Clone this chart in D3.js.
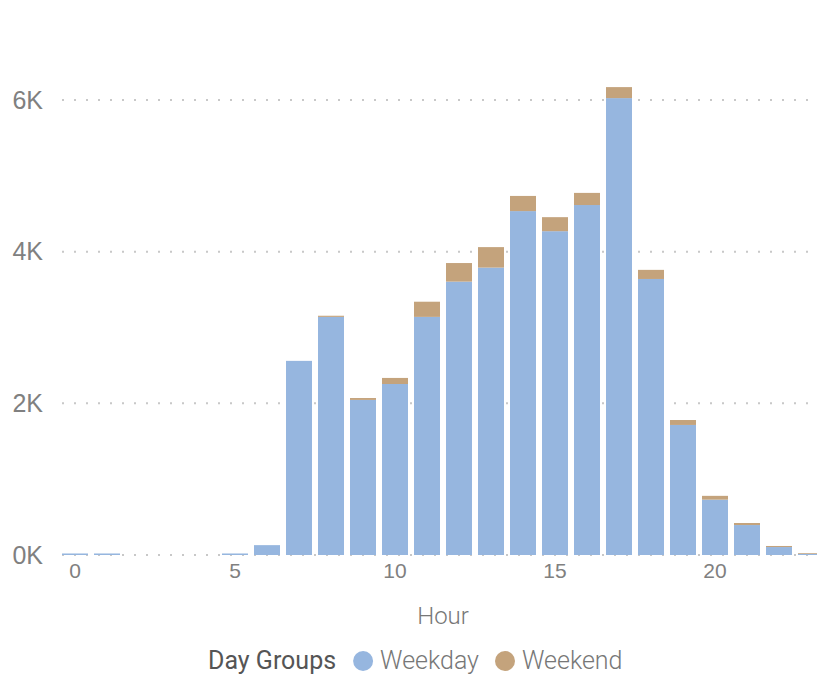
<!DOCTYPE html>
<html>
<head>
<meta charset="utf-8">
<script src="https://cdn.jsdelivr.net/npm/d3@7"></script>
<style>
  body { margin: 0; background: #fff; }
  svg { display: block; font-family: "Segoe UI Light", Roboto, "Open Sans", sans-serif; }
</style>
</head>
<body>
<div id="chart"></div>
<script>
// hours on the x axis
const hours = d3.range(0, 24);
const weekday = [20, 20, 0, 0, 0, 20, 130, 2560, 3140, 2045, 2255, 3140,
                 3605, 3790, 4535, 4270, 4615, 6025, 3640, 1715, 730, 395, 105, 15];
const weekend = [0, 0, 0, 0, 0, 0, 0, 0, 15, 25, 80, 200,
                 245, 270, 200, 185, 160, 145, 120, 65, 50, 27, 14, 10];
const groups = ["Weekday", "Weekend"];
const colors = ["#96b6df", "#c4a37c"];
const xTicks = [0, 5, 10, 15, 20];
const yTicks = [0, 2000, 4000, 6000];

const width = 817, height = 680;

const svg = d3.select("#chart").append("svg")
    .attr("width", width)
    .attr("height", height);

const rows = hours.map((h, i) => ({ hour: h, Weekday: weekday[i], Weekend: weekend[i] }));
const series = d3.stack().keys(groups)(rows);

const x = d3.scaleBand()
    .domain(hours)
    .range([59, 827])
    .paddingInner(0.1875)
    .paddingOuter(0.09375);

const y = d3.scaleLinear()
    .domain([0, 6000])
    .range([555, 100]);

// dotted gridlines
svg.append("g")
    .selectAll("line")
    .data(yTicks)
    .enter()
    .append("line")
    .attr("x1", 62)
    .attr("x2", 812)
    .attr("y1", d => y(d))
    .attr("y2", d => y(d))
    .attr("stroke", "#c8c8c8")
    .attr("stroke-width", 2)
    .attr("stroke-dasharray", "2,10");

// y axis labels
const yAxis = svg.append("g")
    .attr("transform", "translate(45,0)")
    .call(d3.axisLeft(y).tickValues(yTicks).tickSize(0).tickPadding(2)
        .tickFormat(d => (d / 1000) + "K"));
yAxis.select(".domain").remove();
yAxis.selectAll("text")
    .attr("fill", "#808080")
    .style("font-size", "25px")
    .style("font-weight", 300)
    .style("font-family", null);

// stacked bars
svg.append("g")
    .selectAll("g")
    .data(series)
    .enter()
    .append("g")
    .attr("fill", (d, i) => colors[i])
    .selectAll("rect")
    .data(d => d)
    .enter()
    .append("rect")
    .attr("x", d => x(d.data.hour))
    .attr("y", d => y(d[1]))
    .attr("width", x.bandwidth())
    .attr("height", d => y(d[0]) - y(d[1]));

// x axis labels
const xAxis = svg.append("g")
    .attr("transform", "translate(0,563)")
    .call(d3.axisBottom(x).tickValues(xTicks).tickSize(0).tickPadding(0));
xAxis.select(".domain").remove();
xAxis.selectAll("text")
    .attr("fill", "#808080")
    .style("font-size", "21px")
    .style("font-weight", 300)
    .style("font-family", null);

svg.append("text")
    .attr("x", (x.range()[0] + x.range()[1]) / 2)
    .attr("y", 624)
    .attr("text-anchor", "middle")
    .attr("fill", "#777")
    .style("font-size", "24px")
    .style("font-weight", 300)
    .text("Hour");

// legend
const legend = svg.append("g");
let lx = 208;
const title = legend.append("text")
    .attr("x", lx)
    .attr("y", 669)
    .attr("fill", "#555")
    .style("font-size", "25px")
    .style("font-weight", 400)
    .text("Day Groups");
lx += title.node().getComputedTextLength() + 17;
groups.forEach((g, i) => {
    legend.append("circle")
        .attr("cx", lx + 10)
        .attr("cy", 661)
        .attr("r", 10)
        .attr("fill", colors[i]);
    const t = legend.append("text")
        .attr("x", lx + 27)
        .attr("y", 669)
        .attr("fill", "#777")
        .style("font-size", "25px")
        .style("font-weight", 300)
        .text(g);
    lx += 27 + t.node().getComputedTextLength() + 16;
});
</script>
</body>
</html>
